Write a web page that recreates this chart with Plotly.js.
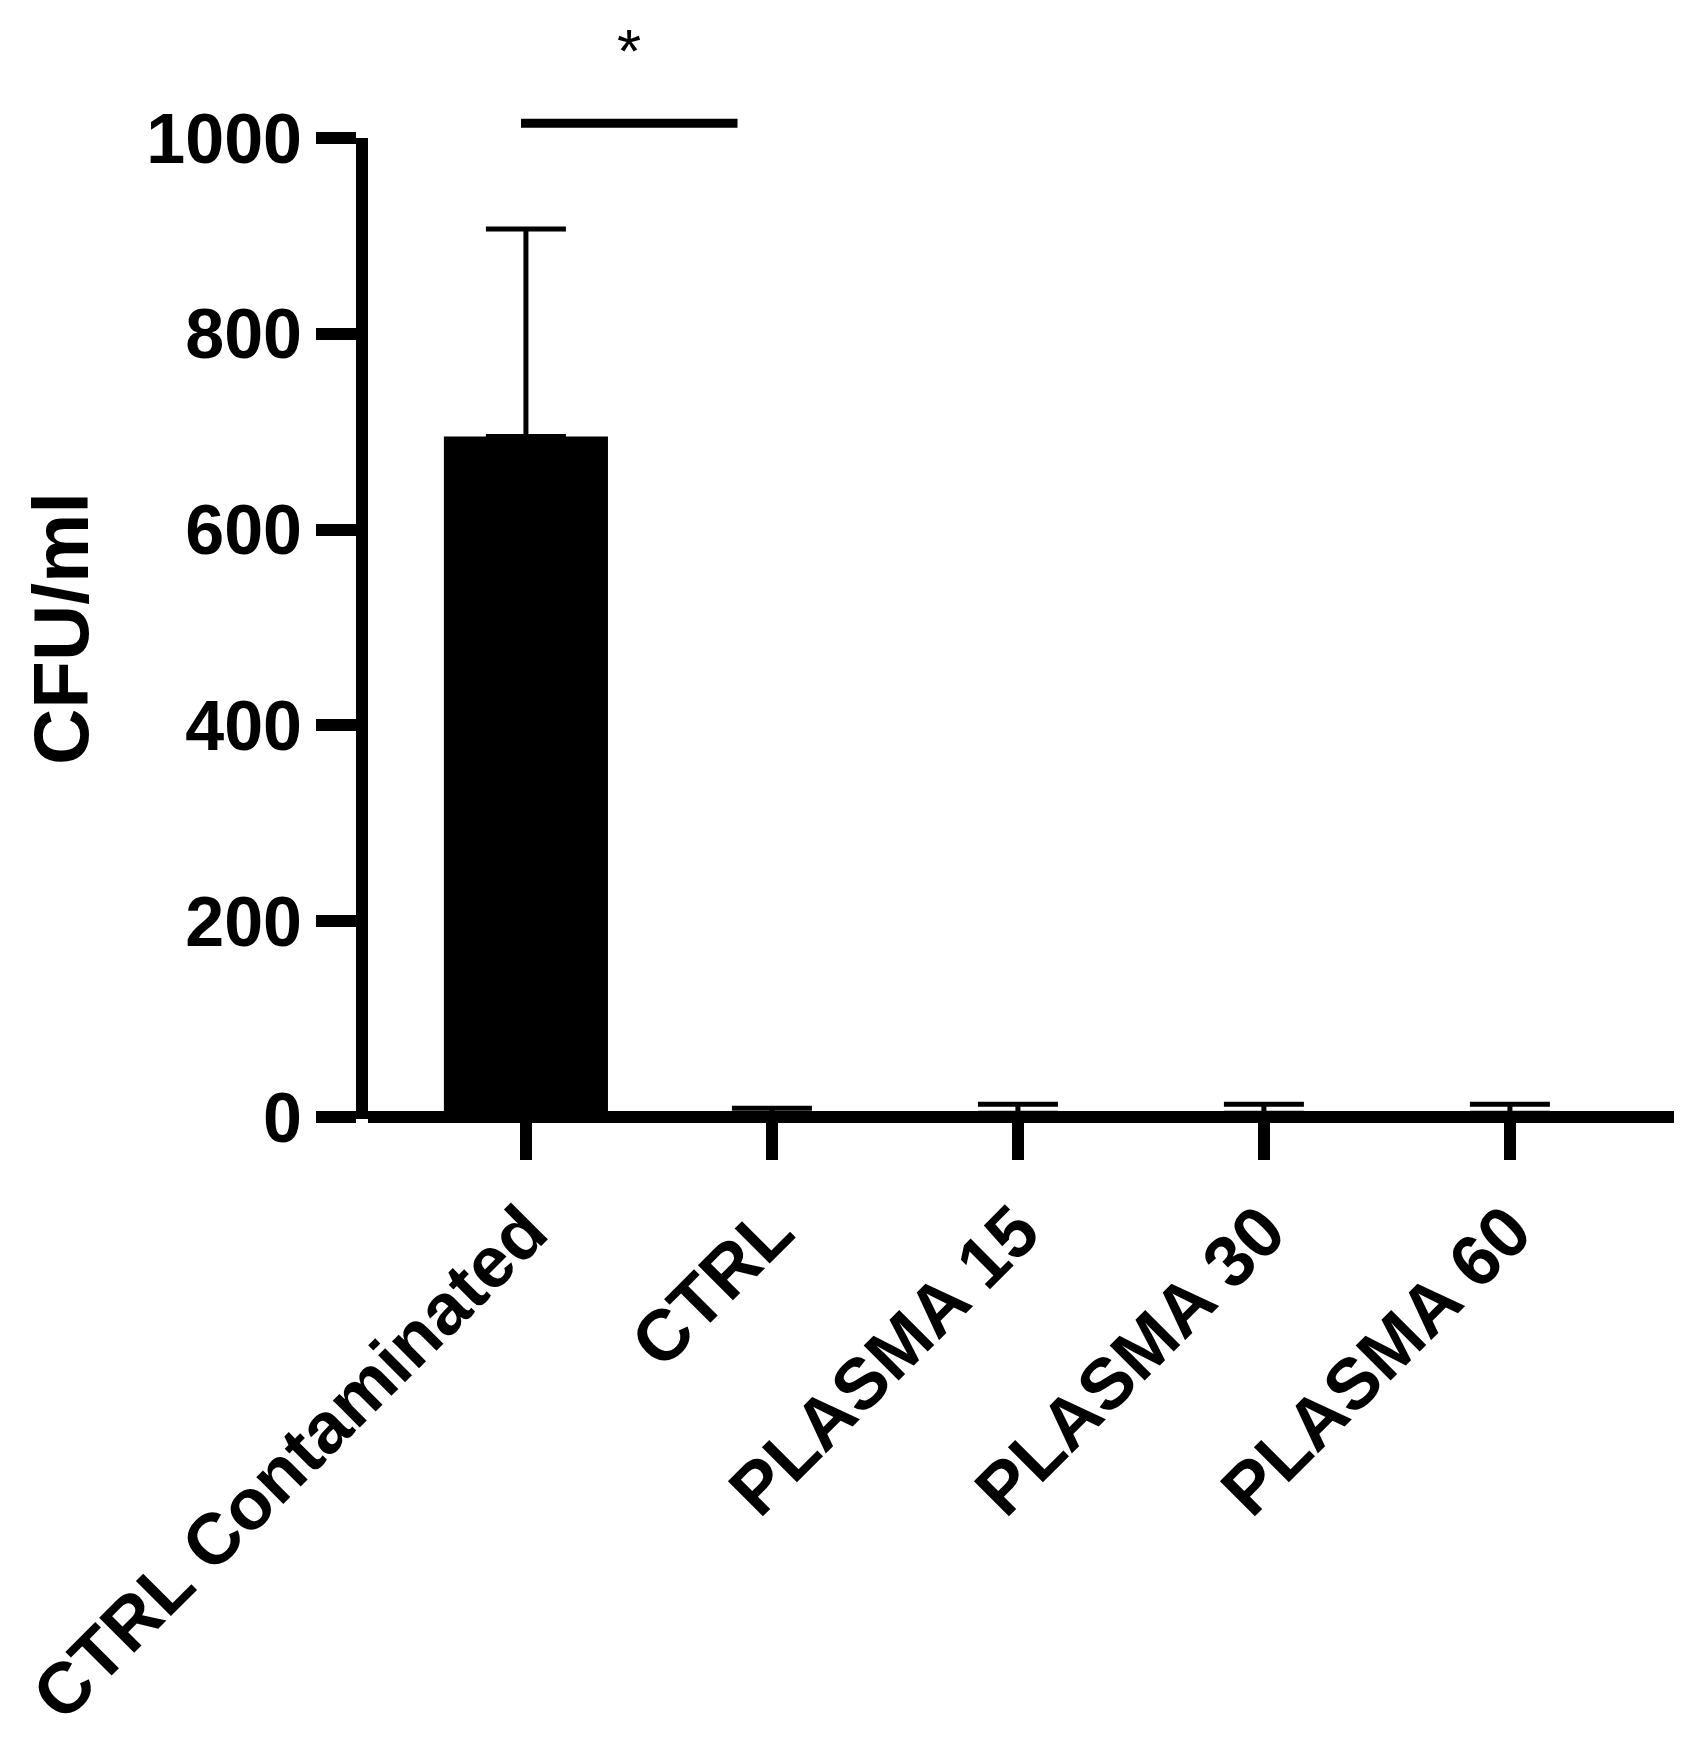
<!DOCTYPE html>
<html>
<head>
<meta charset="utf-8">
<script src="https://cdn.plot.ly/plotly-3.0.1.min.js"></script>
<style>
html, body { margin: 0; padding: 0; background: #ffffff; }
#chart { width: 1694px; height: 1738px; }
</style>
</head>
<body>
<div id="chart"></div>
<script>
// ---- data ----
const categories = ['CTRL Contaminated', 'CTRL', 'PLASMA 15', 'PLASMA 30', 'PLASMA 60'];
const meanCFU = [695, 3, 4, 4, 4];
const sdCFU = [212, 6, 9, 9, 9];
const yTickVals = [0, 200, 400, 600, 800, 1000];
const yTickText = ['0', '200', '400', '600', '800', '1000'];
const sigLabel = '*';
const sigFrom = -0.02;   // category position where the significance line starts
const sigTo = 0.86;      // category position where it ends
const sigLineCFU = 1015; // height of significance line (CFU/ml)
const sigStarCFU = 1089; // height of the asterisk (CFU/ml)

const yMin = -2;         // small offset so the baseline sits inside the thick x axis
const yMax = 1000;
const FONT = 'Arial, "Liberation Sans", Helvetica, sans-serif';
const toPaper = v => (v - yMin) / (yMax - yMin);

const trace = {
  type: 'bar',
  x: categories.map((c, i) => i),
  y: meanCFU,
  width: 0.667,
  marker: { color: '#000000', line: { width: 0 } },
  error_y: {
    type: 'data',
    symmetric: false,
    array: sdCFU,
    arrayminus: meanCFU.map(() => 0),
    color: '#000000',
    thickness: 5,
    width: 40,
    visible: true
  },
  hoverinfo: 'none'
};

const layout = {
  width: 1694,
  height: 1738,
  paper_bgcolor: '#ffffff',
  plot_bgcolor: '#ffffff',
  showlegend: false,
  margin: { l: 368, r: 20, t: 138, b: 619, pad: 0 },
  font: { family: FONT, color: '#000000' },
  xaxis: {
    range: [-0.642, 4.667],
    tickmode: 'array',
    tickvals: categories.map((c, i) => i),
    ticktext: categories,
    tickangle: -45,
    ticks: 'outside',
    ticklen: 40,
    tickwidth: 12,
    tickcolor: '#000000',
    showline: false,
    showgrid: false,
    zeroline: false,
    tickfont: { family: FONT, size: 72, color: '#000000', weight: 'bold' },
    fixedrange: true
  },
  yaxis: {
    range: [yMin, yMax],
    tickmode: 'array',
    tickvals: yTickVals,
    ticktext: yTickText,
    ticks: 'outside',
    ticklen: 40,
    tickwidth: 12,
    tickcolor: '#000000',
    showline: true,
    linecolor: '#000000',
    linewidth: 12,
    showgrid: false,
    zeroline: true,
    zerolinecolor: '#000000',
    zerolinewidth: 12,
    ticklabelstandoff: 0,
    tickfont: { family: FONT, size: 70, color: '#000000', weight: 'bold' },
    title: {
      text: 'CFU/ml',
      font: { family: FONT, size: 78, color: '#000000', weight: 'bold' },
      standoff: 37
    },
    fixedrange: true
  },
  shapes: [{
    type: 'line',
    xref: 'x', yref: 'paper',
    x0: sigFrom, x1: sigTo,
    y0: toPaper(sigLineCFU), y1: toPaper(sigLineCFU),
    line: { color: '#000000', width: 9 }
  }],
  annotations: [{
    xref: 'x', yref: 'paper',
    x: (sigFrom + sigTo) / 2,
    y: toPaper(sigStarCFU),
    text: sigLabel,
    showarrow: false,
    xanchor: 'center',
    yanchor: 'middle',
    font: { family: FONT, size: 62, color: '#000000' }
  }]
};

Plotly.newPlot('chart', [trace], layout, { displayModeBar: false, staticPlot: true });
</script>
</body>
</html>
